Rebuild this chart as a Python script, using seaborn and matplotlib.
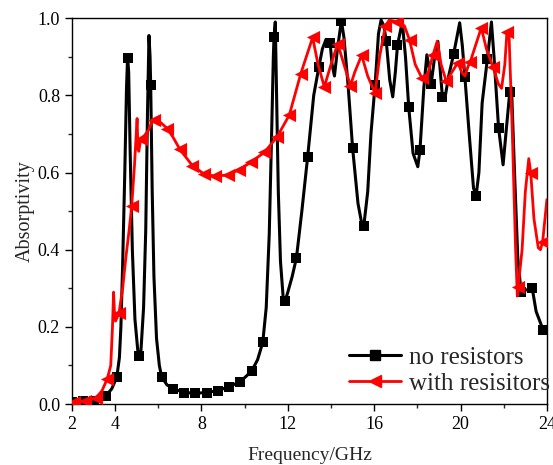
import matplotlib
matplotlib.use("Agg")
import matplotlib.pyplot as plt
from matplotlib.lines import Line2D
from matplotlib.ticker import MultipleLocator, FixedLocator
import seaborn as sns

# no resistors: curve (peaks, troughs, marker points)
freq_no = [2.0, 2.52, 3.04, 3.56, 3.85, 4.08, 4.2, 4.27, 4.35, 4.45, 4.53, 4.58, 4.63,
           4.7, 4.8, 4.92, 5.05, 5.12, 5.2, 5.32, 5.42, 5.5, 5.57, 5.62, 5.65, 5.72,
           5.8, 5.92, 6.05, 6.16, 6.4, 6.68, 7.2, 7.72, 8.24, 8.76, 9.28, 9.8, 10.32,
           10.6, 10.84, 11.0, 11.14, 11.25, 11.33, 11.36, 11.42, 11.48, 11.56, 11.66,
           11.78, 11.88, 12.0, 12.2, 12.4, 12.65, 12.92, 13.2, 13.44, 13.6, 13.77,
           13.96, 14.05, 14.16, 14.3, 14.48, 14.6, 14.8, 15.0, 15.25, 15.45, 15.52,
           15.7, 15.85, 16.04, 16.2, 16.32, 16.45, 16.56, 16.72, 16.86, 16.98, 17.08,
           17.3, 17.45, 17.6, 17.8, 18.02, 18.12, 18.3, 18.44, 18.55, 18.64, 18.8,
           18.95, 19.08, 19.16, 19.3, 19.45, 19.68, 19.96, 20.08, 20.2, 20.4, 20.6,
           20.72, 20.85, 21.0, 21.24, 21.43, 21.55, 21.76, 21.97, 22.1, 22.28, 22.36,
           22.5, 22.65, 22.8, 23.0, 23.32, 23.5, 23.84, 24.0]
abs_no = [0.005, 0.007, 0.008, 0.02, 0.04, 0.07, 0.12, 0.2, 0.36, 0.6, 0.82, 0.9, 0.86,
          0.65, 0.4, 0.22, 0.14, 0.124, 0.14, 0.25, 0.45, 0.75, 0.955, 0.9, 0.826, 0.55,
          0.33, 0.17, 0.1, 0.07, 0.05, 0.04, 0.03, 0.028, 0.03, 0.035, 0.045, 0.058,
          0.085, 0.115, 0.16, 0.25, 0.44, 0.7, 0.9, 0.95, 0.99, 0.8, 0.55, 0.37, 0.28,
          0.267, 0.29, 0.33, 0.379, 0.5, 0.641, 0.8, 0.874, 0.92, 0.945, 0.935, 0.88,
          0.85, 0.92, 0.993, 0.95, 0.82, 0.664, 0.52, 0.46, 0.462, 0.55, 0.7, 0.826,
          0.96, 0.995, 0.98, 0.94, 0.84, 0.796, 0.86, 0.93, 0.99, 0.9, 0.769, 0.65,
          0.615, 0.658, 0.82, 0.905, 0.87, 0.83, 0.9, 0.94, 0.85, 0.796, 0.8, 0.85,
          0.907, 0.988, 0.93, 0.848, 0.7, 0.56, 0.539, 0.6, 0.78, 0.893, 0.99, 0.9,
          0.716, 0.62, 0.7, 0.809, 0.82, 0.6, 0.38, 0.291, 0.295, 0.3, 0.24, 0.19, 0.19]
mark_freq_no = [2.0, 2.52, 3.04, 3.56, 4.08, 4.6, 5.12, 5.65, 6.16, 6.68, 7.2, 7.72,
                8.24, 8.76, 9.28, 9.8, 10.32, 10.84, 11.36, 11.88, 12.4, 12.92, 13.44,
                13.96, 14.48, 15.0, 15.52, 16.04, 16.56, 17.08, 17.6, 18.12, 18.64,
                19.16, 19.68, 20.2, 20.72, 21.24, 21.76, 22.28, 22.8, 23.32, 23.84]
mark_abs_no = [0.005, 0.007, 0.008, 0.02, 0.07, 0.898, 0.124, 0.826, 0.07, 0.04, 0.03,
               0.028, 0.03, 0.035, 0.045, 0.058, 0.085, 0.16, 0.951, 0.267, 0.379,
               0.641, 0.874, 0.935, 0.993, 0.664, 0.462, 0.826, 0.94, 0.93, 0.769,
               0.658, 0.83, 0.796, 0.907, 0.848, 0.539, 0.893, 0.716, 0.809, 0.291,
               0.3, 0.192]

# with resisitors
freq_res = [2.0, 2.17, 2.6, 3.1, 3.4, 3.64, 3.8, 3.88, 3.93, 3.97, 4.02, 4.1, 4.18,
            4.35, 4.5, 4.65, 4.77, 4.9, 4.98, 5.02, 5.06, 5.1, 5.19, 5.35, 5.55, 5.7,
            5.82, 6.1, 6.42, 6.7, 7.0, 7.58, 8.1, 8.65, 9.21, 9.75, 10.29, 10.91, 11.5,
            12.07, 12.6, 13.15, 13.4, 13.69, 14.0, 14.31, 14.6, 14.9, 15.1, 15.42,
            15.7, 16.04, 16.25, 16.52, 16.7, 17.08, 17.4, 17.64, 17.9, 18.2, 18.4,
            18.72, 18.92, 19.1, 19.34, 19.6, 19.88, 20.05, 20.2, 20.35, 20.45, 20.96,
            21.2, 21.5, 21.75, 21.9, 22.05, 22.15, 22.25, 22.4, 22.55, 22.63, 22.67,
            22.85, 23.0, 23.16, 23.25, 23.4, 23.6, 23.7, 23.8, 24.0]
abs_res = [0.003, 0.006, 0.008, 0.015, 0.035, 0.066, 0.1, 0.2, 0.29, 0.24, 0.215, 0.225,
           0.235, 0.3, 0.38, 0.45, 0.513, 0.62, 0.7, 0.74, 0.66, 0.655, 0.688, 0.695,
           0.71, 0.73, 0.737, 0.73, 0.714, 0.69, 0.66, 0.618, 0.597, 0.59, 0.594,
           0.607, 0.627, 0.652, 0.692, 0.749, 0.856, 0.95, 0.88, 0.822, 0.88, 0.934,
           0.88, 0.825, 0.86, 0.904, 0.85, 0.805, 0.9, 0.98, 0.995, 0.99, 0.98, 0.943,
           0.88, 0.846, 0.838, 0.904, 0.94, 0.88, 0.836, 0.86, 0.885, 0.86, 0.85,
           0.875, 0.887, 0.975, 0.92, 0.874, 0.83, 0.818, 0.88, 0.965, 0.95, 0.7, 0.4,
           0.28, 0.304, 0.4, 0.55, 0.636, 0.6, 0.48, 0.405, 0.4, 0.42, 0.53]
mark_freq_res = [2.08, 2.6, 3.1, 3.64, 4.18, 4.77, 5.19, 5.82, 6.42, 7.0, 7.58, 8.1,
                 8.65, 9.21, 9.75, 10.29, 10.91, 11.5, 12.07, 12.6, 13.15, 13.69,
                 14.31, 14.9, 15.42, 16.04, 16.52, 17.08, 17.64, 18.2, 18.72, 19.34,
                 19.88, 20.45, 20.96, 21.5, 22.15, 22.67, 23.25, 23.8]
mark_abs_res = [0.005, 0.008, 0.015, 0.066, 0.235, 0.513, 0.688, 0.737, 0.714, 0.66,
                0.618, 0.597, 0.59, 0.594, 0.607, 0.627, 0.652, 0.692, 0.749, 0.856,
                0.95, 0.822, 0.934, 0.825, 0.904, 0.805, 0.98, 0.99, 0.943, 0.846,
                0.904, 0.836, 0.885, 0.887, 0.975, 0.874, 0.965, 0.304, 0.6, 0.42]

sns.set_style("ticks")
plt.rcParams["font.family"] = ["Liberation Serif", "DejaVu Serif"]

fig = plt.figure(figsize=(5.53, 4.65), dpi=100)
ax = fig.add_axes([0.130, 0.131, 0.859, 0.830])

sns.lineplot(x=freq_no, y=abs_no, color="black", lw=2.2, estimator=None, ax=ax)
sns.scatterplot(x=mark_freq_no, y=mark_abs_no, marker="s", s=60, color="black",
                edgecolor="black", linewidth=0, zorder=3, ax=ax)
sns.lineplot(x=freq_res, y=abs_res, color="red", lw=2.0, estimator=None, ax=ax, zorder=4)
sns.scatterplot(x=mark_freq_res, y=mark_abs_res, marker="<", s=90, color="red",
                edgecolor="red", linewidth=0, zorder=5, ax=ax)

ax.set_xlim(2, 24)
ax.set_ylim(0, 1)
ax.xaxis.set_major_locator(FixedLocator([2, 4, 8, 12, 16, 20, 24]))
ax.xaxis.set_minor_locator(FixedLocator([6, 10, 14, 18, 22]))
ax.yaxis.set_major_locator(MultipleLocator(0.2))
ax.yaxis.set_minor_locator(MultipleLocator(0.1))
ax.yaxis.set_major_formatter(matplotlib.ticker.FormatStrFormatter("%.1f"))
ax.tick_params(which="major", direction="out", length=5, width=1, labelsize=13,
               top=False, right=False, color="black", labelcolor="black")
ax.tick_params(which="minor", direction="out", length=3, width=1, top=False, right=False)
for sp in ax.spines.values():
    sp.set_visible(True)
    sp.set_linewidth(1)
    sp.set_color("black")

ax.set_xlabel("Frequency/GHz", fontsize=14, labelpad=10)
ax.set_ylabel("Absorptivity", fontsize=14.5, labelpad=2)

handles = [
    Line2D([], [], color="black", lw=2.2, marker="s", markersize=7),
    Line2D([], [], color="red", lw=2.0, marker="<", markersize=9),
]
ax.legend(handles, ["no resistors", "with resisitors"], loc="upper left",
          bbox_to_anchor=(0.583, 0.15), frameon=False, fontsize=18,
          handlelength=2.1, handletextpad=0.3, labelspacing=0.15, borderpad=0,
          borderaxespad=0)

fig.savefig("out.png", dpi=100)
